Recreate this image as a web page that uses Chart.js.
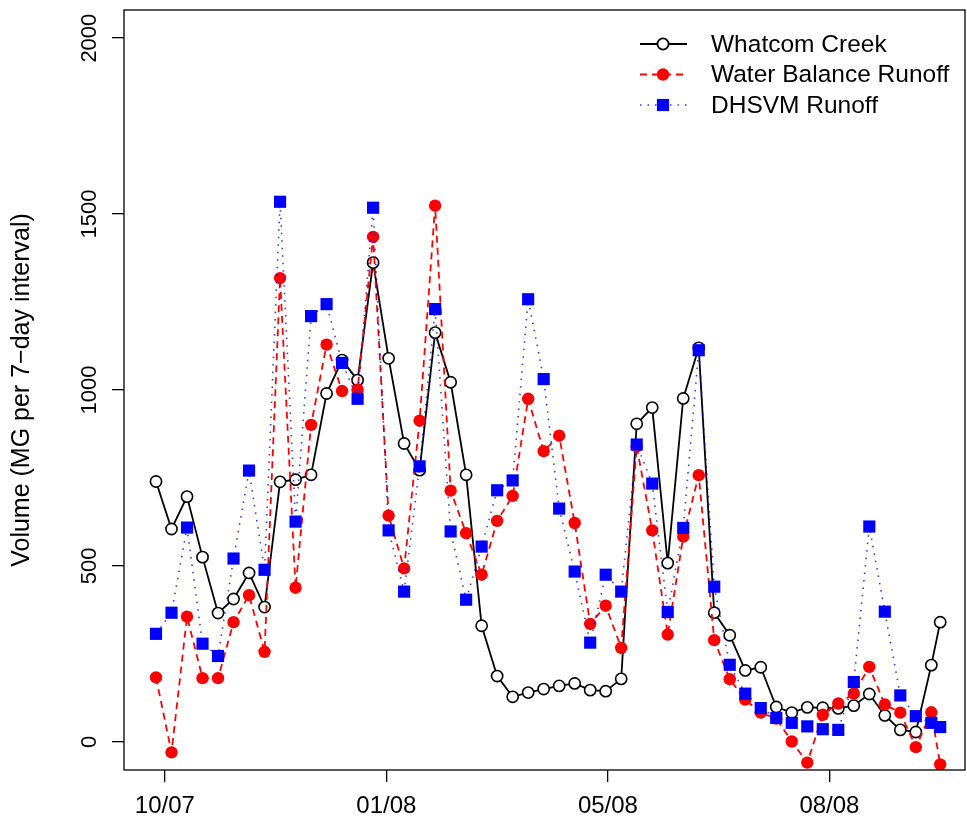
<!DOCTYPE html>
<html>
<head>
<meta charset="utf-8">
<script src="https://cdn.jsdelivr.net/npm/chart.js@4/dist/chart.umd.min.js"></script>
<style>
  html, body { margin: 0; padding: 0; background: #fff; }
  #wrap { width: 967px; height: 831px; }
</style>
</head>
<body>
<div id="wrap"><canvas id="runoff" width="967" height="831"></canvas></div>
<script>
// weekly sample dates (last one is a short interval)
const sampleDates = [
  '2007-10-15', '2007-10-22', '2007-10-29', '2007-11-05', '2007-11-12', '2007-11-19', '2007-11-26',
  '2007-12-03', '2007-12-10', '2007-12-17', '2007-12-24', '2007-12-31',
  '2008-01-07', '2008-01-14', '2008-01-21', '2008-01-28', '2008-02-04', '2008-02-11', '2008-02-18',
  '2008-02-25', '2008-03-03', '2008-03-10', '2008-03-17', '2008-03-24', '2008-03-31', '2008-04-07',
  '2008-04-14', '2008-04-21', '2008-04-28', '2008-05-05', '2008-05-12', '2008-05-19', '2008-05-26',
  '2008-06-02', '2008-06-09', '2008-06-16', '2008-06-23', '2008-06-30', '2008-07-07', '2008-07-14',
  '2008-07-21', '2008-07-28', '2008-08-04', '2008-08-11', '2008-08-18', '2008-08-25', '2008-09-01',
  '2008-09-08', '2008-09-15', '2008-09-22', '2008-09-29', '2008-10-03'
];

// volumes, MG per 7-day interval
const whatcomCreek = [
  740, 605, 697, 525, 366, 406, 480, 383, 739, 745,
  759, 990, 1085, 1028, 1362, 1090, 848, 772, 1163, 1022,
  759, 330, 187, 128, 140, 150, 159, 166, 147, 144,
  179, 904, 950, 508, 976, 1120, 367, 303, 203, 212,
  99, 83, 98, 97, 95, 103, 136, 75, 34, 28,
  218, 340
];
const waterBalance = [
  183, -30, 356, 181, 181, 340, 417, 256, 1318, 438,
  901, 1129, 997, 1001, 1435, 643, 493, 913, 1524, 714,
  593, 475, 628, 699, 975, 826, 870, 622, 335, 387,
  267, 840, 601, 305, 583, 758, 289, 178, 120, 83,
  66, 1, -59, 77, 109, 137, 213, 106, 83, -15,
  84, -64
];
const dhsvmRunoff = [
  307, 367, 609, 279, 244, 521, 771, 489, 1535, 626,
  1210, 1244, 1077, 975, 1518, 601, 427, 783, 1230, 598,
  404, 555, 715, 743, 1258, 1031, 663, 484, 282, 475,
  427, 845, 734, 369, 608, 1113, 441, 219, 137, 96,
  68, 54, 44, 36, 34, 170, 612, 370, 132, 73,
  54, 42
];

const seriesNames = ['Whatcom Creek', 'Water Balance Runoff', 'DHSVM Runoff'];
const tickDates = ['2007-10-19', '2008-01-27', '2008-05-06', '2008-08-14'];
const yTicks = [0, 500, 1000, 1500, 2000];

const FONT = 'Liberation Sans, Arial, Helvetica, sans-serif';
const DAY = 864e5;
const t0 = Date.parse(sampleDates[0]);
const dayOf = d => (Date.parse(d) - t0) / DAY;
const days = sampleDates.map(dayOf);
const tickDays = tickDates.map(dayOf);
const tickLabel = {};
tickDates.forEach((d, i) => { tickLabel[tickDays[i]] = d.slice(5, 7) + '/' + d.slice(2, 4); });

const pts = vals => vals.map((v, i) => ({ x: days[i], y: v }));

// full frame round the plot region
const frame = {
  id: 'frame',
  afterDatasetsDraw(chart) {
    const { ctx, chartArea: a } = chart;
    ctx.save();
    ctx.strokeStyle = '#000';
    ctx.lineWidth = 1.3;
    ctx.strokeRect(a.left, a.top, a.right - a.left, a.bottom - a.top);
    ctx.restore();
  }
};

// line + symbol legend, top right
const keyBox = {
  id: 'keyBox',
  afterDraw(chart) {
    const ctx = chart.ctx;
    const rows = [44, 74.5, 105];
    chart.data.datasets.forEach((ds, i) => {
      const y = rows[i];
      ctx.save();
      ctx.strokeStyle = ds.borderColor;
      ctx.lineWidth = ds.borderWidth;
      ctx.setLineDash(ds.borderDash || []);
      ctx.beginPath();
      ctx.moveTo(640, y);
      ctx.lineTo(687, y);
      ctx.stroke();
      ctx.setLineDash([]);
      ctx.fillStyle = ds.pointBackgroundColor;
      ctx.strokeStyle = ds.pointBorderColor;
      Chart.helpers.drawPoint(ctx, {
        pointStyle: ds.pointStyle,
        radius: ds.pointRadius,
        rotation: 0,
        borderWidth: ds.pointBorderWidth
      }, 663, y);
      ctx.fillStyle = '#000';
      ctx.font = '24.5px ' + FONT;
      ctx.textBaseline = 'middle';
      ctx.textAlign = 'left';
      ctx.fillText(ds.label, 711, y + 1);
      ctx.restore();
    });
  }
};

new Chart(document.getElementById('runoff'), {
  type: 'line',
  data: {
    datasets: [
      {
        label: seriesNames[0],
        data: pts(whatcomCreek),
        borderColor: '#000',
        borderWidth: 1.8,
        pointStyle: 'circle',
        pointRadius: 5.6,
        pointBorderWidth: 1.6,
        pointBackgroundColor: '#fff',
        pointBorderColor: '#000',
        order: 3
      },
      {
        label: seriesNames[1],
        data: pts(waterBalance),
        borderColor: '#ff0000',
        borderWidth: 1.8,
        borderDash: [7, 5],
        pointStyle: 'circle',
        pointRadius: 6.2,
        pointBorderWidth: 0,
        pointBackgroundColor: '#ff0000',
        pointBorderColor: '#ff0000',
        order: 2
      },
      {
        label: seriesNames[2],
        data: pts(dhsvmRunoff),
        borderColor: 'rgba(0,0,255,0.8)',
        borderWidth: 1.6,
        borderDash: [1.5, 6],
        pointStyle: 'rect',
        pointRadius: 8.6,
        pointBorderWidth: 0,
        pointBackgroundColor: '#0000ff',
        pointBorderColor: '#0000ff',
        order: 1
      }
    ]
  },
  options: {
    responsive: false,
    animation: false,
    devicePixelRatio: 1,
    layout: { autoPadding: false, padding: { top: 10, right: 2, left: 0, bottom: 0 } },
    plugins: { legend: { display: false }, tooltip: { enabled: false } },
    elements: { line: { tension: 0 } },
    scales: {
      x: {
        type: 'linear',
        min: -14.45,
        max: 365.2,
        afterBuildTicks: s => { s.ticks = tickDays.map(v => ({ value: v })); },
        afterFit: s => { s.height = 61; s.paddingLeft = 0; s.paddingRight = 0; },
        grid: { drawOnChartArea: false, tickLength: 12, color: '#000', lineWidth: 1.3 },
        border: { display: false },
        ticks: {
          autoSkip: false,
          maxRotation: 0,
          padding: 10,
          color: '#000',
          font: { family: FONT, size: 24 },
          callback: v => tickLabel[v]
        }
      },
      y: {
        min: -80,
        max: 2080,
        afterBuildTicks: s => { s.ticks = yTicks.map(v => ({ value: v })); },
        afterFit: s => { s.width = 124; s.paddingTop = 0; s.paddingBottom = 0; },
        grid: { drawOnChartArea: false, tickLength: 12, color: '#000', lineWidth: 1.3 },
        border: { display: false },
        ticks: {
          minRotation: 90,
          maxRotation: 90,
          crossAlign: 'center',
          padding: -2,
          color: '#000',
          font: { family: FONT, size: 22 },
          callback: v => String(v)
        },
        title: {
          display: true,
          text: 'Volume (MG per 7\u2212day interval)',
          color: '#000',
          font: { family: FONT, size: 25 },
          padding: { top: 7, bottom: 0 }
        }
      }
    }
  },
  plugins: [frame, keyBox]
});
</script>
</body>
</html>
